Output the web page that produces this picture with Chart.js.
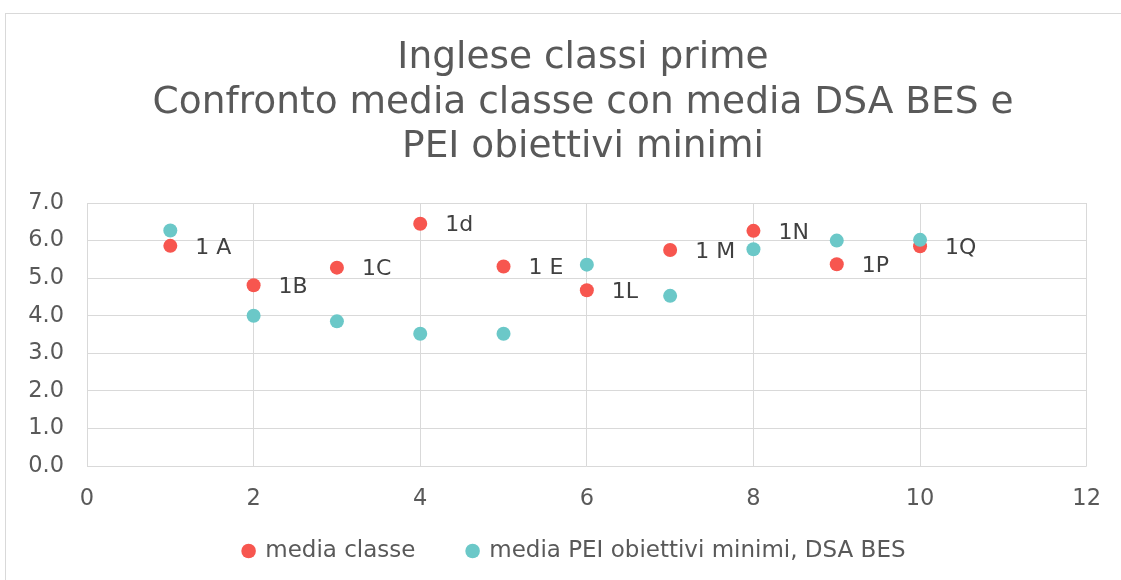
<!DOCTYPE html>
<html>
<head>
<meta charset="utf-8">
<script src="https://cdn.jsdelivr.net/npm/chart.js@4/dist/chart.umd.min.js"></script>
<style>
  html, body { margin: 0; padding: 0; background: #fff; overflow: hidden; }
  #wrap { position: relative; width: 1121px; height: 580px; }
</style>
</head>
<body>
<div id="wrap"><canvas id="scatter"></canvas></div>
<script>
// class number on the x axis, average mark on the y axis
const classX = [1, 2, 3, 4, 5, 6, 7, 8, 9, 10];
const classLabels = ['1 A', '1B', '1C', '1d', '1 E', '1L', '1 M', '1N', '1P', '1Q'];
const classAverage = [5.86, 4.81, 5.28, 6.45, 5.31, 4.68, 5.75, 6.26, 5.37, 5.85];
const peiAverage = [6.27, 4.0, 3.85, 3.52, 3.52, 5.36, 4.53, 5.77, 6.0, 6.02];

const titleLines = [
  'Inglese classi prime',
  'Confronto media classe con media DSA BES e',
  'PEI obiettivi minimi'
];

const FONT = "'DejaVu Sans', Verdana, sans-serif";
const RED = '#F7564F';
const TEAL = '#6BC8C8';

const toPoints = (values) => classX.map((x, i) => ({ x: x, y: values[i] }));

// grey frame around the whole chart
const frame = {
  id: 'frame',
  beforeDraw(chart) {
    const ctx = chart.ctx;
    ctx.save();
    ctx.strokeStyle = '#d9d9d9';
    ctx.lineWidth = 1;
    ctx.strokeRect(5.5, 13.5, 1200, 700);
    ctx.restore();
  }
};

// nudge title and legend: both centred a little right of the canvas middle,
// legend pulled up since its padding also sets the gap between items
const nudge = {
  id: 'nudge',
  afterLayout(chart) {
    const t = chart.titleBlock;
    const lg = chart.legend;
    t.left += 39.5;
    t.right += 39.5;
    lg.left += 31;
    lg.right += 31;
    lg.top -= 45.5;
    lg.bottom -= 45.5;
  }
};

// class names written to the right of each red point
const classNames = {
  id: 'classNames',
  afterDatasetsDraw(chart) {
    const meta = chart.getDatasetMeta(0);
    const ctx = chart.ctx;
    ctx.save();
    ctx.font = '22px ' + FONT;
    ctx.fillStyle = '#404040';
    ctx.textBaseline = 'middle';
    ctx.textAlign = 'left';
    meta.data.forEach((pt, i) => {
      ctx.fillText(classLabels[i], pt.x + 25, pt.y + 2);
    });
    ctx.restore();
  }
};

new Chart(document.getElementById('scatter'), {
  type: 'scatter',
  data: {
    datasets: [
      {
        label: 'media classe',
        data: toPoints(classAverage),
        backgroundColor: RED,
        borderColor: RED,
        borderWidth: 0,
        pointRadius: 7,
        order: 2
      },
      {
        label: 'media PEI obiettivi minimi, DSA BES',
        data: toPoints(peiAverage),
        backgroundColor: TEAL,
        borderColor: TEAL,
        borderWidth: 0,
        pointRadius: 7,
        order: 1
      }
    ]
  },
  options: {
    responsive: true,
    maintainAspectRatio: false,
    animation: false,
    layout: {
      padding: { top: 0, right: 34, bottom: -38, left: 0 }
    },
    scales: {
      x: {
        type: 'linear',
        min: 0,
        max: 12,
        ticks: {
          stepSize: 2,
          padding: 20,
          color: '#595959',
          font: { family: FONT, size: 22.5 }
        },
        grid: { color: '#d9d9d9', drawTicks: false },
        border: { display: false }
      },
      y: {
        min: 0,
        max: 7,
        ticks: {
          stepSize: 1,
          padding: 23,
          color: '#595959',
          font: { family: FONT, size: 22.5 },
          callback: (v) => v.toFixed(1)
        },
        grid: { color: '#d9d9d9', drawTicks: false },
        border: { display: false },
        afterFit: (scale) => { scale.width = 87; }
      }
    },
    plugins: {
      title: {
        display: true,
        text: titleLines,
        color: '#595959',
        font: { family: FONT, size: 37.5, weight: 'normal', lineHeight: 1.187 },
        padding: { top: 36, bottom: 33.5 }
      },
      legend: {
        position: 'bottom',
        labels: {
          usePointStyle: true,
          pointStyle: 'circle',
          boxWidth: 10.3,
          boxHeight: 10.3,
          padding: 52,
          color: '#595959',
          font: { family: FONT, size: 23 },
          sort: (a, b) => a.datasetIndex - b.datasetIndex
        }
      },
      tooltip: { enabled: false }
    }
  },
  plugins: [frame, nudge, classNames]
});
</script>
</body>
</html>
